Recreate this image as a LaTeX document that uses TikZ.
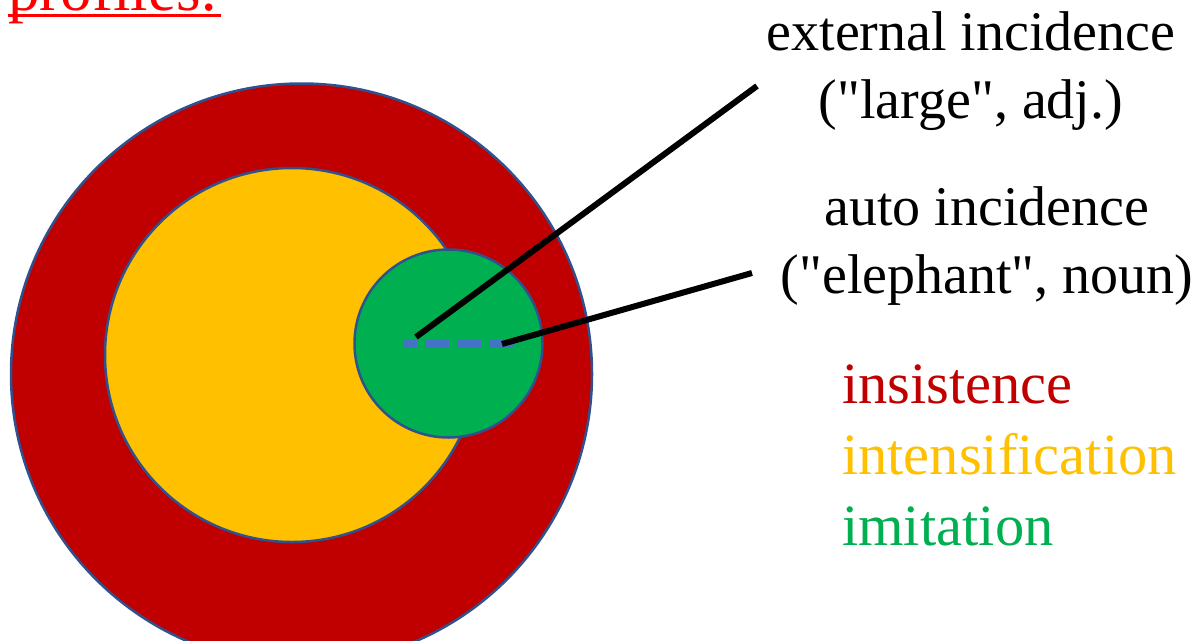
\documentclass[tikz,border=0pt]{standalone}
\usepackage{fontspec}
\setmainfont{Liberation Serif}
\definecolor{insist}{HTML}{C00000}
\definecolor{intens}{HTML}{FFC000}
\definecolor{imit}{HTML}{00B050}
\definecolor{rim}{HTML}{2F528F}
\definecolor{dashblue}{HTML}{4472C4}

\begin{document}
\begin{tikzpicture}[x=1pt, y=-1pt,
        ring/.style={draw=rim, line width=2.5pt},
        pointer/.style={black, line width=6pt},
        big/.style={inner sep=0pt, font=\fontsize{56}{68}\selectfont},
        legend/.style={inner sep=0pt, anchor=base west, font=\fontsize{58.5}{70}\selectfont}]
                \useasboundingbox (0,0) rectangle (1198,640);
                \clip (0,0) rectangle (1198,640);
                \node[inner sep=0pt, red, anchor=base west, font=\fontsize{63}{70}\selectfont] (title) at (8,10) {profiles:};
                \draw[red, line width=3.4pt] ([yshift=-5.6pt]title.base west) -- ([yshift=-5.6pt,xshift=3pt]title.base east);
                % nested profiles
                \filldraw[ring, fill=insist] (301.5,374) circle[radius=290.5pt];
                \filldraw[ring, fill=intens] (292,355) circle[radius=187pt];
                \filldraw[ring, fill=imit] (448.5,343.5) circle[radius=94pt];
                \coordinate (dashstart) at (404,343.5);
                \coordinate (dashend) at (513,343.5);
                \draw[dashblue, line width=8pt, dash pattern=on 24pt off 8pt, dash phase=11pt] (dashstart) -- (dashend);
                \coordinate (extfoot) at (416,337);
                \coordinate (exthead) at (757,86);
                \coordinate (autofoot) at (502,344);
                \coordinate (autohead) at (752,273);
                \draw[pointer] (extfoot) -- (exthead);
                \draw[pointer] (autofoot) -- (autohead);
                % labels
                \node[big, anchor=base] (ext1) at (971,50) {external incidence};
                \node[big, anchor=base] (ext2) at (971,118) {(\textquotedbl large\textquotedbl, adj.)};
                \node[big, anchor=base] (auto1) at (987,225) {auto incidence};
                \node[big, anchor=base] (auto2) at (987,293) {(\textquotedbl elephant\textquotedbl, noun)};
                \node[legend, insist] (leg1) at (842,403) {insistence};
                \node[legend, intens] (leg2) at (842,474) {intensif{}ication};
                \node[legend, imit] (leg3) at (842,545) {imitation};
            \end{tikzpicture}
\end{document}
